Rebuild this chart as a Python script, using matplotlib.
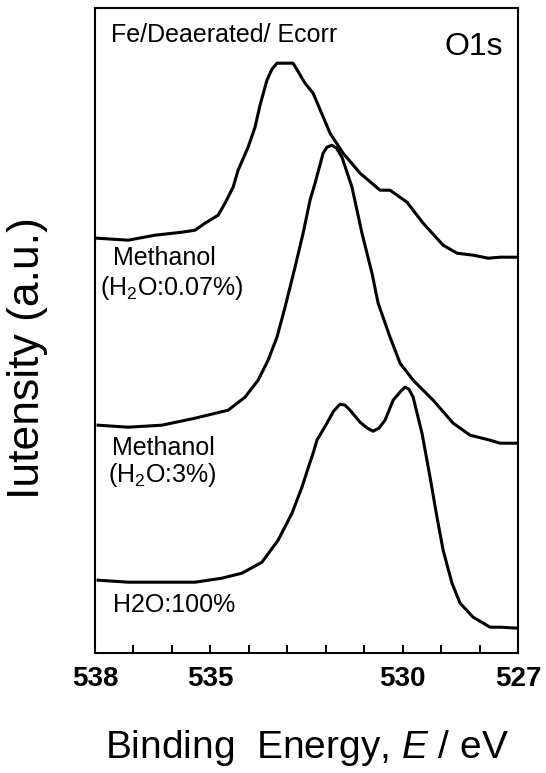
#! /usr/bin/env python
import matplotlib
matplotlib.use('Agg')
from matplotlib import pyplot as plt
from matplotlib.ticker import MultipleLocator

# O1s spectra, binding energy (eV) and intensity (a.u., already offset)
e_ecorr = [537.95, 537.14, 536.44, 535.74, 535.40, 535.14, 534.80, 534.62,
           534.41, 534.28, 534.02, 533.84, 533.71, 533.53, 533.40, 533.27,
           532.85, 532.54, 532.33, 531.89, 531.55, 531.11, 530.59, 530.33,
           529.89, 529.47, 528.95, 528.59, 528.17, 527.78, 527.47, 527.00]
i_ecorr = [4.15, 4.13, 4.18, 4.21, 4.23, 4.30, 4.38, 4.50,
           4.66, 4.83, 5.06, 5.26, 5.48, 5.73, 5.84, 5.90,
           5.90, 5.70, 5.60, 5.20, 5.00, 4.80, 4.63, 4.63,
           4.51, 4.30, 4.08, 4.00, 3.98, 3.95, 3.96, 3.96]

e_meoh = [537.92, 537.14, 536.26, 535.40, 534.54, 534.10, 533.76, 533.50,
          533.27, 533.06, 532.80, 532.59, 532.41, 532.28, 532.07, 531.97,
          531.84, 531.72, 531.58, 531.32, 531.06, 530.80, 530.64, 530.33,
          530.07, 529.73, 529.21, 528.69, 528.25, 527.73, 527.47, 527.00]
i_meoh = [2.28, 2.26, 2.28, 2.35, 2.43, 2.56, 2.73, 2.93,
          3.16, 3.46, 3.86, 4.20, 4.53, 4.70, 5.00, 5.06,
          5.08, 5.05, 4.96, 4.66, 4.20, 3.80, 3.50, 3.16,
          2.90, 2.73, 2.53, 2.30, 2.18, 2.13, 2.10, 2.10]

e_water = [537.92, 537.14, 536.26, 535.40, 534.70, 534.18, 533.66, 533.24,
           532.88, 532.62, 532.41, 532.33, 532.23, 531.97, 531.80, 531.63,
           531.50, 531.37, 531.11, 530.92, 530.77, 530.62, 530.46, 530.25,
           530.05, 529.94, 529.84, 529.73, 529.50, 529.29, 529.11, 528.95,
           528.72, 528.51, 528.17, 527.73, 527.47, 527.00]
i_water = [0.73, 0.71, 0.71, 0.71, 0.75, 0.80, 0.91, 1.13,
           1.40, 1.66, 1.91, 2.00, 2.13, 2.30, 2.42, 2.49,
           2.48, 2.43, 2.31, 2.25, 2.22, 2.25, 2.33, 2.53,
           2.62, 2.66, 2.64, 2.56, 2.20, 1.76, 1.36, 1.03,
           0.70, 0.50, 0.36, 0.26, 0.26, 0.25]

xtick_vals = [538, 535, 530, 527]

def run():
    plt.rcParams['font.family'] = ['Liberation Sans', 'DejaVu Sans']
    plt.rcParams['mathtext.fontset'] = 'custom'
    plt.rcParams['mathtext.rm'] = 'Liberation Sans'
    plt.rcParams['mathtext.it'] = 'Liberation Sans:italic'

    fig = plt.figure(figsize=(5.46, 7.73), dpi=100)
    ax = fig.add_axes([0.174, 0.155, 0.775, 0.8344])

    for e, i in [(e_ecorr, i_ecorr), (e_meoh, i_meoh), (e_water, i_water)]:
        ax.plot(e, i, color='black', lw=2.2, solid_joinstyle='round')

    ax.set_xlim(538, 527)
    ax.set_ylim(0, 6.45)
    ax.set_yticks([])
    ax.set_xticks(xtick_vals)
    ax.set_xticklabels([str(v) for v in xtick_vals], fontsize=20, fontweight='bold')
    ax.xaxis.set_minor_locator(MultipleLocator(1))
    ax.tick_params(axis='x', which='both', direction='in', length=6, width=1.4,
                   top=False, pad=9)
    for s in ax.spines.values():
        s.set_linewidth(1.5)

    ax.set_xlabel('Binding  Energy, $E$ / eV', fontsize=28, labelpad=26)
    fig.text(28 / 546, 1 - 358 / 773, 'Iutensity (a.u.)', rotation=90,
             fontsize=32, ha='center', va='center')

    kw = dict(transform=ax.transAxes, fontsize=18, va='baseline', ha='left')
    ax.text(0.038, 0.947, 'Fe/Deaerated/ Ecorr', **kw)
    ax.text(0.965, 0.927, 'O1s', transform=ax.transAxes, fontsize=23,
            va='baseline', ha='right')
    ax.text(0.043, 0.602, 'Methanol', **kw)
    ax.text(0.012, 0.555, '(H$_2$O:0.07%)', **kw)
    ax.text(0.040, 0.307, 'Methanol', **kw)
    ax.text(0.031, 0.265, '(H$_2$O:3%)', **kw)
    ax.text(0.043, 0.064, 'H2O:100%', **kw)

    fig.savefig('out.png', dpi=100)

if __name__ == '__main__':
    run()
